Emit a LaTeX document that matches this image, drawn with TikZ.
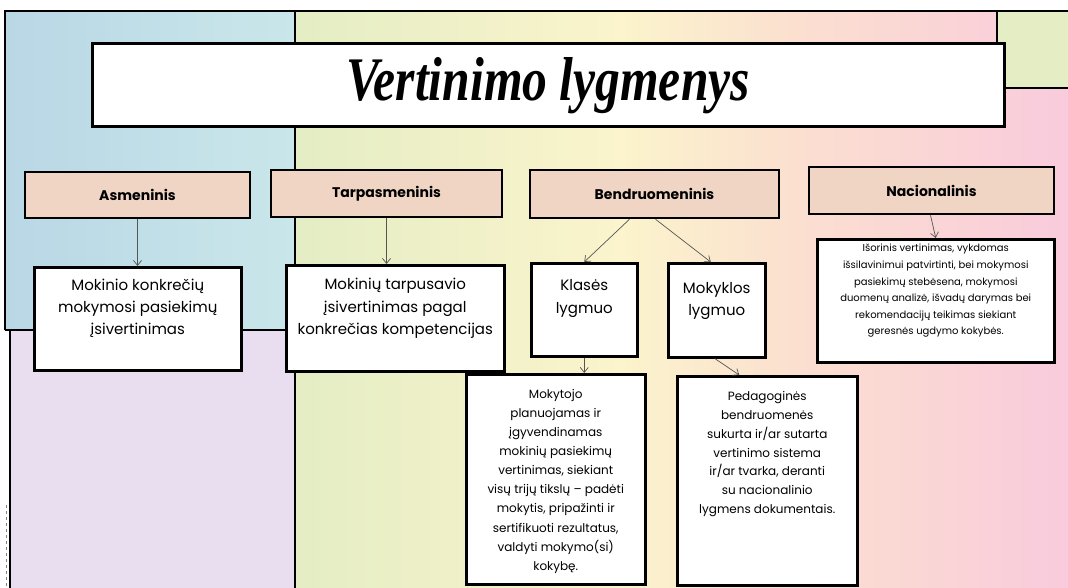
\documentclass[tikz,border=0pt]{standalone}
\usepackage{fontspec}
\setmainfont{Poppins}
\newfontfamily\titlefont{Liberation Serif}
\usetikzlibrary{arrows.meta,calc}
\definecolor{blueL}{HTML}{B9D7E5}
\definecolor{blueR}{HTML}{C9E7EA}
\definecolor{lav}{HTML}{E9DEF0}
\definecolor{gr}{HTML}{E4EDC4}
\definecolor{yel}{HTML}{FBF4CC}
\definecolor{pch}{HTML}{FBDFD0}
\definecolor{pnk}{HTML}{F9CBDC}
\definecolor{hdr}{HTML}{F0D5C4}
\definecolor{arr}{HTML}{555555}
\newcommand\tbx[6]{\parbox[c][#2pt][t]{#1pt}{\centering\fontsize{#4pt}{#5pt}\selectfont\vspace*{#3pt}#6\par}}
\begin{document}
\begin{tikzpicture}[x=1pt,y=-1pt,
  hdrbox/.style={draw=black, line width=2.5pt, fill=hdr, inner sep=0pt, font=\bfseries\fontsize{14}{16}\selectfont},
  wbox/.style={draw=black, line width=2.5pt, fill=white, inner sep=0pt, anchor=north west},
  conn/.style={draw=arr, line width=0.7pt, -{Straight Barb[length=5pt,width=8pt]}},
  region/.style={draw=black, line width=2pt}]
\useasboundingbox (0,0) rectangle (1068,588);
% background regions
\shade[left color=blueL,right color=blueR] (5,11) rectangle (295,330);
\fill[lav] (10,330) rectangle (295,588);
\shade[left color=gr,right color=yel] (295,11) rectangle (620.5,588);
\shade[left color=yel,right color=pch] (620,11) rectangle (800.5,588);
\shade[left color=pch,right color=pnk] (800,11) rectangle (1068,588);
\fill[gr] (997,11) rectangle (1068,88);
\draw[region] (5,330) -- (5,11) -- (1068,11);
\draw[region] (10,330) -- (10,588);
\draw[region] (5,330) -- (295,330);
\draw[region] (295,11) -- (295,588);
\draw[region] (997,11) -- (997,88) -- (1068,88);
\draw[gray, dashed, line width=0.5pt] (6,505) -- (6,588);
% title
\node[draw=black, line width=3pt, fill=white, minimum width=912pt, minimum height=83pt, inner sep=0pt] (title) at (548,85.5)
  {\titlefont\bfseries\itshape\fontsize{62}{66}\selectfont\scalebox{0.8}[1]{Vertinimo lygmenys}};
% headers
\node[hdrbox, minimum width=225pt, minimum height=46pt] (h1) at (137.5,195) {Asmeninis};
\node[hdrbox, minimum width=231pt, minimum height=47pt] (h2) at (386.5,193.5) {Tarpasmeninis};
\node[hdrbox, minimum width=249pt, minimum height=48pt] (h3) at (654.5,194) {Bendruomeninis};
\node[hdrbox, minimum width=245pt, minimum height=47pt] (h4) at (931.5,190.5) {Nacionalinis};
% white boxes
\node[wbox] (b1) at (33,266) {\tbx{207}{103}{12}{15}{22}{Mokinio konkrečių\\mokymosi pasiekimų\\įsivertinimas}};
\node[wbox] (b2) at (285,264) {\tbx{218}{106}{13}{15}{22.5}{Mokinių tarpusavio\\įsivertinimas pagal\\konkrečias kompetencijas}};
\node[wbox] (b3a) at (530,262) {\tbx{106}{93}{16}{15}{23}{Klasės\\lygmuo}};
\node[wbox] (b3b) at (667,262) {\tbx{97}{94}{19}{15}{22}{Mokyklos\\lygmuo}};
\node[wbox] (b5) at (816,238) {\tbx{237}{123}{5}{10}{16.6}{Išorinis vertinimas, vykdomas\\išsilavinimui patvirtinti, bei mokymosi\\pasiekimų stebėsena, mokymosi\\duomenų analizė, išvadų darymas bei\\rekomendacijų teikimas siekiant\\geresnės ugdymo kokybės.}};
\node[wbox] (b6) at (465,373) {\tbx{179}{210}{15}{12}{19.1}{Mokytojo\\planuojamas ir\\įgyvendinamas\\mokinių pasiekimų\\vertinimas, siekiant\\visų trijų tikslų -- padėti\\mokytis, pripažinti ir\\sertifikuoti rezultatus,\\valdyti mokymo(si)\\kokybę.}};
\node[wbox] (b7) at (676,375) {\tbx{180}{209}{15}{12}{18.9}{Pedagoginės\\bendruomenės\\sukurta ir/ar sutarta\\vertinimo sistema\\ir/ar tvarka, deranti\\su nacionalinio\\lygmens dokumentais.}};
% connectors
\draw[conn] (h1.south) -- (h1.south |- b1.north);
\draw[conn] (h2.south) -- (h2.south |- b2.north);
\draw[conn] ([xshift=-25pt]h3.south) -- (b3a.north);
\draw[conn] ([xshift=1pt]h3.south) -- ([xshift=-6pt]b3b.north);
\draw[conn] ([xshift=-1pt]h4.south) -- (b5.north);
\draw[conn] (b3a.south) -- (b3a.south |- b6.north);
\draw[conn] ([xshift=-2pt]b3b.south) -- ([xshift=-28pt]b7.north);
\end{tikzpicture}
\end{document}
